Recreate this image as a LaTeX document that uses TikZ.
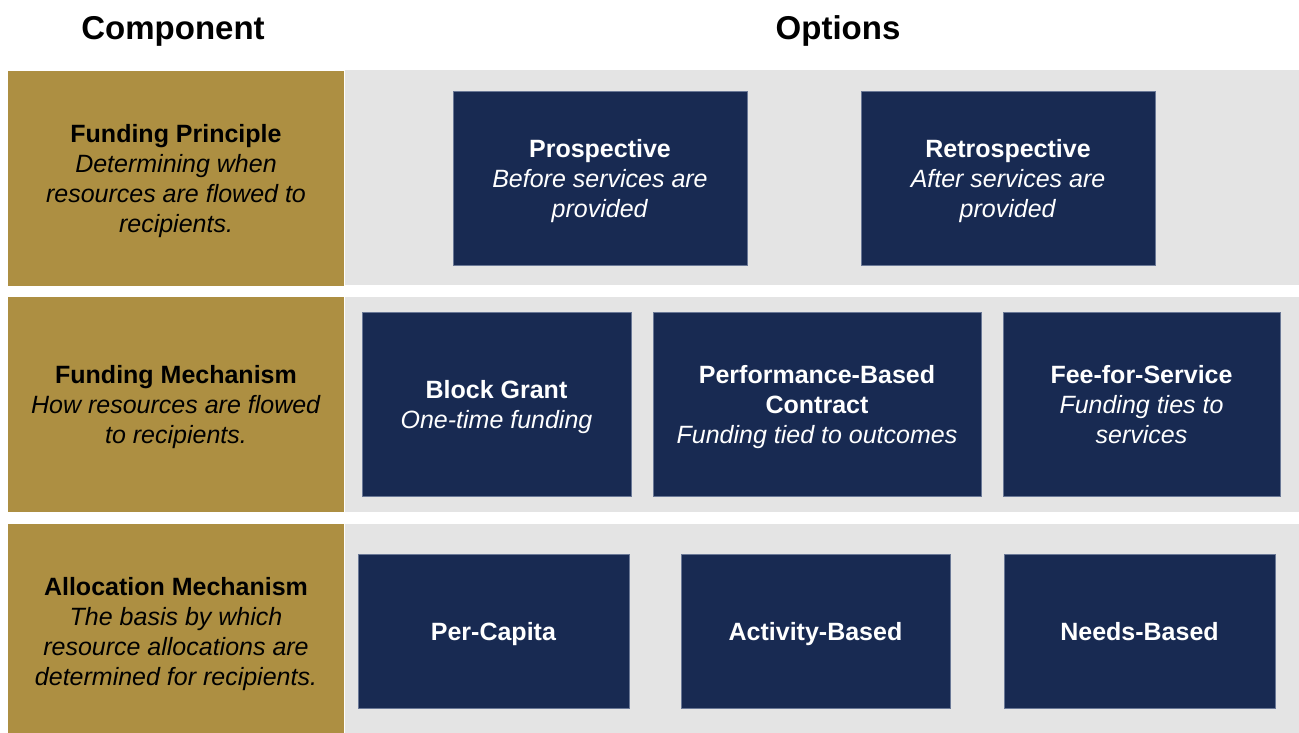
\documentclass[tikz,border=0pt]{standalone}
\usepackage{fontspec}
\setmainfont{Liberation Sans}
\definecolor{gold}{HTML}{AD8F42}
\definecolor{navy}{HTML}{182A52}
\definecolor{bggray}{HTML}{E4E4E4}
\definecolor{navyedge}{HTML}{6A7896}
\begin{document}
\begin{tikzpicture}[x=1pt,y=-1pt,
  every node/.style={inner sep=0pt, outer sep=0pt, text depth=0pt},
  header/.style={font=\fontsize{33}{38}\selectfont\bfseries, text=black},
  compbox/.style={fill=gold, minimum width=336pt, align=center, text=black,
    font=\fontsize{25}{30}\selectfont},
  rowband/.style={fill=bggray, minimum width=954pt},
  optbox/.style={fill=navy, draw=navyedge, line width=0.6pt, align=center, text=white,
    font=\fontsize{25}{30}\selectfont}
]
\useasboundingbox (0,0) rectangle (1299,733);
% headers
\node[header] (hcomp) at (173,28) {Component};
\node[header] (hopt) at (838,28) {Options};
% row bands
\node[rowband, minimum height=215pt] (band1) at (822,177.5) {};
\node[rowband, minimum height=215pt] (band2) at (822,404.5) {};
\node[rowband, minimum height=209pt] (band3) at (822,628.5) {};
% component boxes
\node[compbox, minimum height=215pt] (c1) at (176,178.5)
  {\textbf{Funding Principle}\\\textit{Determining when}\\\textit{resources are flowed to}\\\textit{recipients.}};
\node[compbox, minimum height=215pt] (c2) at (176,404.5)
  {\textbf{Funding Mechanism}\\\textit{How resources are flowed}\\\textit{to recipients.}};
\node[compbox, minimum height=209pt] (c3) at (176,628.5) {};
\node[align=center, text=black, font=\fontsize{25}{30}\selectfont] (c3t) at (176,631)
  {\textbf{Allocation Mechanism}\\\textit{The basis by which}\\\textit{resource allocations are}\\\textit{determined for recipients.}};
% row 1 options
\node[optbox, minimum width=294pt, minimum height=174pt] (pro) at (600,178)
  {\textbf{Prospective}\\\textit{Before services are}\\\textit{provided}};
\node[optbox, minimum width=294pt, minimum height=174pt] (retro) at (1008,178)
  {\textbf{Retrospective}\\\textit{After services are}\\\textit{provided}};
% row 2 options
\node[optbox, minimum width=269pt, minimum height=184pt] (block) at (496.5,404)
  {\textbf{Block Grant}\\\textit{One-time funding}};
\node[optbox, minimum width=328pt, minimum height=184pt] (perf) at (817,404)
  {\textbf{Performance-Based}\\\textbf{Contract}\\\textit{Funding tied to outcomes}};
\node[optbox, minimum width=277pt, minimum height=184pt] (fee) at (1141.5,404)
  {\textbf{Fee-for-Service}\\\textit{Funding ties to}\\\textit{services}};
% row 3 options
\node[optbox, minimum width=271pt, minimum height=154pt] (capita) at (493.5,631)
  {\textbf{Per-Capita}};
\node[optbox, minimum width=269pt, minimum height=154pt] (activity) at (815.5,631)
  {\textbf{Activity-Based}};
\node[optbox, minimum width=271pt, minimum height=154pt] (needs) at (1139.5,631)
  {\textbf{Needs-Based}};
\end{tikzpicture}
\end{document}
